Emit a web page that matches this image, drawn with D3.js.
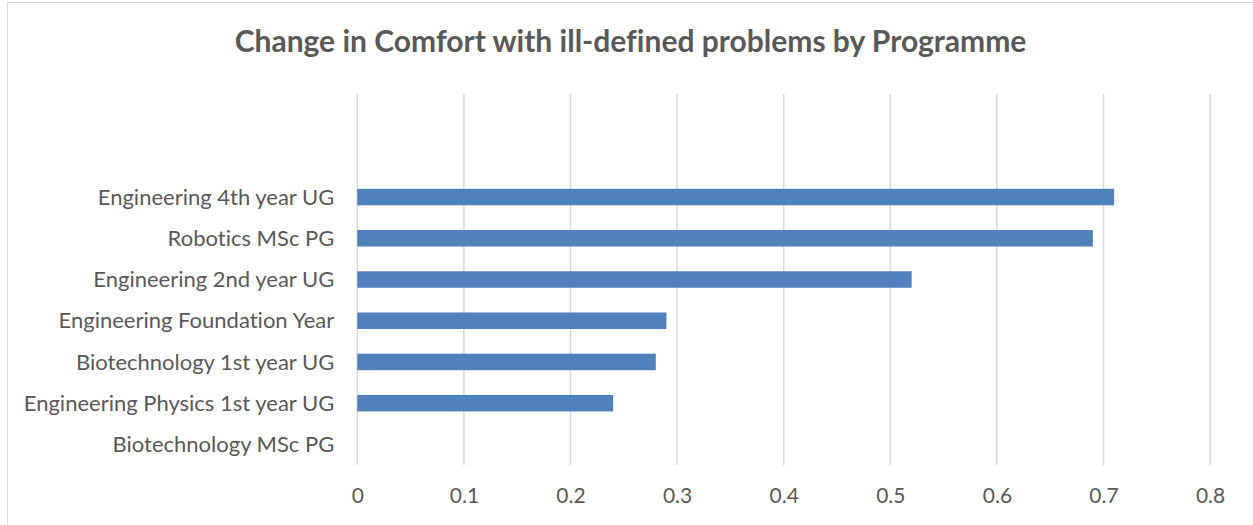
<!DOCTYPE html>
<html><head><meta charset="utf-8">
<script src="https://cdn.jsdelivr.net/npm/d3@7"></script>
<style>html,body{margin:0;padding:0;background:#fff;}svg{display:block;}text{font-variant-ligatures:none;font-feature-settings:"liga" 0;}</style>
</head><body>
<svg id="chart" width="1253" height="525"></svg>
<script>
const title = "Change in Comfort with ill-defined problems by Programme";
// top-to-bottom order (two empty category slots at the top as in the source chart)
const categories = ["", " ", "Engineering 4th year UG", "Robotics MSc PG", "Engineering 2nd year UG",
  "Engineering Foundation Year", "Biotechnology 1st year UG", "Engineering Physics 1st year UG", "Biotechnology MSc PG"];
const values = [null, null, 0.71, 0.69, 0.52, 0.29, 0.28, 0.24, 0];
const xTicks = [0, 0.1, 0.2, 0.3, 0.4, 0.5, 0.6, 0.7, 0.8];

const svg = d3.select("#chart");
const W = 1253, H = 525;
const font = "Lato, 'Open Sans', sans-serif";
const plot = {left: 357.3, right: 1210.1, top: 94, bottom: 465};

svg.append("rect").attr("x", 7.5).attr("y", 2.5).attr("width", W + 10).attr("height", H + 10)
  .attr("fill", "#fff").attr("stroke", "#d9d9d9").attr("stroke-width", 1);

svg.append("text").attr("x", 630.5).attr("y", 52).attr("text-anchor", "middle")
  .attr("font-family", font).attr("font-weight", "bold").attr("font-size", 30)
  .attr("fill", "#595959").text(title);

const x = d3.scaleLinear().domain([0, 0.8]).range([plot.left, plot.right]);
const y = d3.scaleBand().domain(categories).range([plot.top, plot.bottom]).paddingInner(0.6).paddingOuter(0.3);

// gridlines
svg.append("g").selectAll("line").data(xTicks).join("line")
  .attr("x1", d => x(d)).attr("x2", d => x(d)).attr("y1", plot.top).attr("y2", plot.bottom)
  .attr("stroke", "#d9d9d9").attr("stroke-width", 1.5);

// x axis labels
const xAxis = d3.axisBottom(x).tickValues(xTicks).tickSize(0).tickPadding(0).tickFormat(d => d3.format("")(d));
const gx = svg.append("g").attr("transform", `translate(0,${plot.bottom + 23})`).call(xAxis);
gx.select(".domain").remove();
gx.selectAll("text").attr("font-family", font).attr("font-size", 21).attr("fill", "#595959");

// y axis labels
const yAxis = d3.axisLeft(y).tickSize(0).tickPadding(23);
const gy = svg.append("g").attr("transform", `translate(${plot.left},0)`).call(yAxis);
gy.select(".domain").remove();
gy.selectAll("text").attr("font-family", font).attr("font-size", 22).attr("dy", "0.35em").attr("fill", "#595959");

// bars
svg.append("g").selectAll("rect").data(categories.map((c, i) => ({c, v: values[i]})).filter(d => d.v !== null))
  .join("rect")
  .attr("x", x(0)).attr("y", d => y(d.c))
  .attr("width", d => x(d.v) - x(0)).attr("height", y.bandwidth())
  .attr("fill", "#4f81bd");
</script>
</body></html>
